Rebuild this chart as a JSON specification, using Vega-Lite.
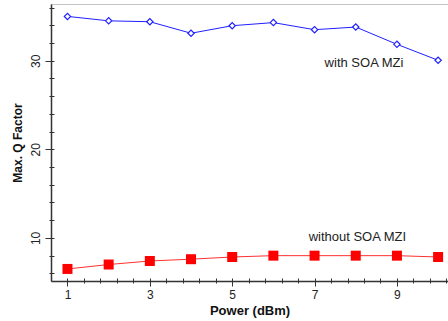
{
  "$schema": "https://vega.github.io/schema/vega-lite/v6.json",
  "autosize": "none",
  "width": 397,
  "height": 277,
  "padding": {"left": 51, "top": 4, "right": 0, "bottom": 40},
  "background": "white",
  "config": {
    "view": {"stroke": "#888888", "strokeDash": [1, 1], "strokeWidth": 1},
    "axis": {"labelFont": "Liberation Sans", "titleFont": "Liberation Sans", "labelColor": "#222222", "titleColor": "#111111", "grid": false}
  },
  "data": {
    "values": [
      {"power": 1, "q": 35.0, "series": "with"},
      {"power": 2, "q": 34.5, "series": "with"},
      {"power": 3, "q": 34.4, "series": "with"},
      {"power": 4, "q": 33.1, "series": "with"},
      {"power": 5, "q": 33.95, "series": "with"},
      {"power": 6, "q": 34.3, "series": "with"},
      {"power": 7, "q": 33.5, "series": "with"},
      {"power": 8, "q": 33.8, "series": "with"},
      {"power": 9, "q": 31.85, "series": "with"},
      {"power": 10, "q": 30.05, "series": "with"},
      {"power": 1, "q": 6.5, "series": "without"},
      {"power": 2, "q": 7.0, "series": "without"},
      {"power": 3, "q": 7.4, "series": "without"},
      {"power": 4, "q": 7.6, "series": "without"},
      {"power": 5, "q": 7.85, "series": "without"},
      {"power": 6, "q": 8.0, "series": "without"},
      {"power": 7, "q": 8.0, "series": "without"},
      {"power": 8, "q": 8.0, "series": "without"},
      {"power": 9, "q": 8.0, "series": "without"},
      {"power": 10, "q": 7.85, "series": "without"}
    ]
  },
  "layer": [
    {
      "transform": [{"filter": "datum.series === 'with'"}],
      "mark": {"type": "line", "color": "#2020ff", "strokeWidth": 1,
        "point": {"shape": "diamond", "filled": false, "fill": "white", "stroke": "#2020ff", "strokeWidth": 1.2, "size": 40}},
      "encoding": {
        "x": {"field": "power", "type": "quantitative",
          "scale": {"domain": [0.6, 10.24], "nice": false, "zero": false},
          "axis": {"orient": "bottom", "values": [1, 3, 5, 7, 9], "title": "Power (dBm)", "titleFontWeight": "bold", "titleFontSize": 13, "titlePadding": 4,
            "labelFontSize": 12, "labelPadding": 3, "tickSize": 5, "tickColor": "#333333", "domainColor": "#333333", "domainWidth": 1.5}},
        "y": {"field": "q", "type": "quantitative",
          "scale": {"domain": [5.14, 36.4], "nice": false, "zero": false},
          "axis": {"orient": "left", "values": [10, 20, 30], "title": "Max. Q Factor", "titleFontWeight": "bold", "titleFontSize": 12, "titlePadding": 5,
            "labelFontSize": 12, "labelAngle": 270, "labelAlign": "center", "labelBaseline": "bottom", "labelPadding": 3,
            "tickSize": 6, "tickColor": "#333333", "domainColor": "#333333", "domainWidth": 1.5}}
      }
    },
    {
      "transform": [{"filter": "datum.series === 'without'"}],
      "mark": {"type": "line", "color": "#ff3030", "strokeWidth": 1,
        "point": {"shape": "square", "filled": true, "color": "#ff0000", "size": 100}},
      "encoding": {
        "x": {"field": "power", "type": "quantitative",
          "axis": {"orient": "bottom", "values": [1, 1.4, 1.8, 2.2, 2.6, 3, 3.4, 3.8, 4.2, 4.6, 5, 5.4, 5.8, 6.2, 6.6, 7, 7.4, 7.8, 8.2, 8.6, 9, 9.4, 9.8, 10.2],
            "labels": false, "title": null, "domain": false, "offset": -3, "tickSize": 5, "tickColor": "#333333"}},
        "y": {"field": "q", "type": "quantitative",
          "axis": {"orient": "left", "values": [6, 8, 10, 12, 14, 16, 18, 20, 22, 24, 26, 28, 30, 32, 34, 36],
            "labels": false, "title": null, "domain": false, "offset": -3, "tickSize": 5, "tickColor": "#333333"}}
      }
    },
    {
      "data": {"values": [
        {"px": 8.2, "qy": 29.77, "label": "with SOA MZi"},
        {"px": 8.04, "qy": 10.1, "label": "without SOA MZI"}
      ]},
      "mark": {"type": "text", "font": "Liberation Sans", "fontSize": 13, "color": "#222222", "align": "center", "baseline": "middle"},
      "encoding": {
        "x": {"field": "px", "type": "quantitative", "axis": null},
        "y": {"field": "qy", "type": "quantitative", "axis": null},
        "text": {"field": "label"}
      }
    }
  ],
  "resolve": {"axis": {"x": "independent", "y": "independent"}}
}
